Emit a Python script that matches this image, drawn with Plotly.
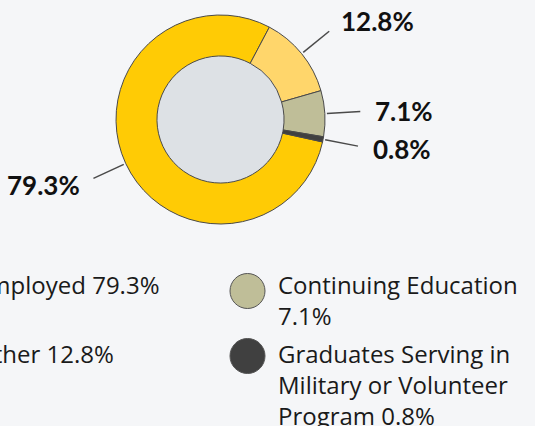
import math
import plotly.graph_objects as go

# ---------------- data ----------------
categories = ["Employed", "Other", "Continuing Education",
              "Graduates Serving in Military or Volunteer Program"]
values = [79.3, 12.8, 7.1, 0.8]
legend_labels = ["Employed 79.3%", "Other 12.8%",
                 "Continuing Education<br>7.1%",
                 "Graduates Serving in<br>Military or Volunteer<br>Program 0.8%"]
slice_colors = ["#FFCB05", "#FFD66B", "#BFBE98", "#404040"]

# ---------------- geometry / style ----------------
W, H = 535, 426
CX, CY, R = 220.5, 119.5, 104.5      # pie centre / radius in px
HOLE = 0.608
ROTATION = 102.4
BG = "#F5F6F8"
HOLE_FILL = "#DDE1E5"
EDGE = "#4A4A4A"
LABEL_FONT = "Lato"
LEGEND_FONT = "Open Sans"

def px2paper(px, py):
    return px / W, 1 - py / H

dx0, dy1 = px2paper(CX - R, CY - R)
dx1, dy0 = px2paper(CX + R, CY + R)

fig = go.Figure()

fig.add_trace(go.Pie(
    labels=categories, values=values, sort=False, direction="clockwise",
    rotation=ROTATION, hole=HOLE, textinfo="none", hoverinfo="label+percent",
    marker=dict(colors=slice_colors, line=dict(color=EDGE, width=1)),
    domain=dict(x=[dx0, dx1], y=[dy0, dy1]), showlegend=False,
))

# legend drawn as a scatter on a hidden cartesian subplot
cols = [i // 2 for i in range(len(values))]
rows = [-(i % 2) for i in range(len(values))]
XU, YU = 302.5, 65.0          # px per unit (markers)
TEXT_PITCH = 68.5             # px between legend text rows
X0PX, Y0PX = -55.0, 291.0     # pixel position of legend cell (0, 0)
x_lo = -X0PX / XU
y_lo = -(H - Y0PX) / YU
fig.add_trace(go.Scatter(
    x=cols, y=rows, mode="markers", showlegend=False, hoverinfo="skip",
    cliponaxis=False,
    marker=dict(size=35, color=slice_colors, line=dict(color="#555555", width=1)),
))

annotations = []
for c, r, t in zip(cols, rows, legend_labels):
    ax_, ay_ = px2paper(X0PX + c * XU, Y0PX - r * TEXT_PITCH)
    annotations.append(dict(
        x=ax_, y=ay_, xref="paper", yref="paper", text=t, showarrow=False,
        xanchor="left", yanchor="top", align="left", xshift=28, yshift=25,
        font=dict(family=LEGEND_FONT, size=24, color="#1A1A1A"),
    ))

# outside labels with leader lines
shapes = []
cum = 0.0
total = sum(values)
for v in values:
    mid = math.radians(ROTATION + (cum + v / 2) / total * 360)
    cum += v
    s, c = math.sin(mid), math.cos(mid)
    r_in, r_out = R * 1.02, R * 1.34
    x0p, y0p = CX + r_in * s, CY - r_in * c
    x1p, y1p = CX + r_out * s, CY - r_out * c
    a0 = px2paper(x0p, y0p)
    a1 = px2paper(x1p, y1p)
    shapes.append(dict(type="line", xref="paper", yref="paper",
                       x0=a0[0], y0=a0[1], x1=a1[0], y1=a1[1],
                       line=dict(color=EDGE, width=1.5)))
    tx, ty = x1p + 13 * s, y1p - 16 * c
    tp = px2paper(tx, ty)
    annotations.append(dict(
        x=tp[0], y=tp[1], xref="paper", yref="paper", text=f"<b>{v}%</b>",
        showarrow=False, xanchor="left" if s > 0 else "right", yanchor="middle",
        font=dict(family=LABEL_FONT, size=26, color="#111111"),
    ))

# filled hole
hx0, hy1 = px2paper(CX - R * HOLE, CY - R * HOLE)
hx1, hy0 = px2paper(CX + R * HOLE, CY + R * HOLE)
shapes.append(dict(type="circle", xref="paper", yref="paper", layer="below",
                   x0=hx0, x1=hx1, y0=hy0, y1=hy1,
                   fillcolor=HOLE_FILL, line=dict(width=0)))

fig.update_layout(
    width=W, height=H, margin=dict(l=0, r=0, t=0, b=0),
    paper_bgcolor=BG, plot_bgcolor=BG,
    xaxis=dict(range=[x_lo, x_lo + W / XU], visible=False, fixedrange=True),
    yaxis=dict(range=[y_lo, y_lo + H / YU], visible=False, fixedrange=True),
    shapes=shapes, annotations=annotations,
    font=dict(family=LEGEND_FONT),
)

fig.write_html(
    "out.html",
    config={"displayModeBar": False},
    post_script="document.body.style.margin='0';document.body.style.overflow='hidden';",
)
